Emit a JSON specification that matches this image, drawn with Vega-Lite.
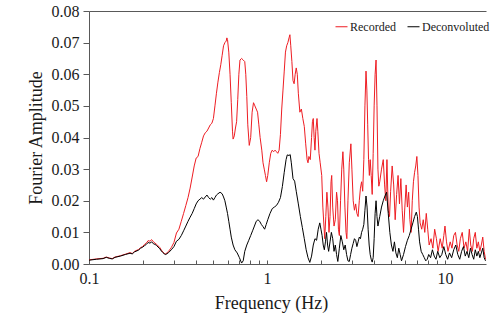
{
  "$schema": "https://vega.github.io/schema/vega-lite/v6.json",
  "width": 397,
  "height": 253,
  "autosize": {"type": "none"},
  "padding": {"left": 89, "top": 11, "right": 5, "bottom": 58},
  "config": {"view": {"stroke": null}, "font": "Liberation Serif"},
  "datasets": {
    "rec": [
      {"f":0.1,"a":0.0013},{"f":0.11,"a":0.0016},{"f":0.12,"a":0.0018},{"f":0.125,"a":0.0022},{"f":0.13,"a":0.0019},{"f":0.135,"a":0.0017},{"f":0.14,"a":0.0022},{"f":0.15,"a":0.0026},{"f":0.16,"a":0.0031},{"f":0.17,"a":0.0036},{"f":0.175,"a":0.0033},{"f":0.18,"a":0.004},{"f":0.19,"a":0.0046},{"f":0.195,"a":0.0052},{"f":0.2,"a":0.0055},{"f":0.205,"a":0.0062},{"f":0.21,"a":0.0066},{"f":0.215,"a":0.0074},{"f":0.22,"a":0.0072},{"f":0.225,"a":0.0077},{"f":0.23,"a":0.007},{"f":0.235,"a":0.0066},{"f":0.24,"a":0.0062},{"f":0.25,"a":0.0052},{"f":0.255,"a":0.0044},{"f":0.26,"a":0.0038},{"f":0.265,"a":0.0033},{"f":0.27,"a":0.0032},{"f":0.28,"a":0.004},{"f":0.29,"a":0.0052},{"f":0.3,"a":0.0068},{"f":0.31,"a":0.0098},{"f":0.32,"a":0.011},{"f":0.33,"a":0.0135},{"f":0.34,"a":0.016},{"f":0.35,"a":0.0185},{"f":0.36,"a":0.021},{"f":0.37,"a":0.024},{"f":0.38,"a":0.0275},{"f":0.39,"a":0.031},{"f":0.4,"a":0.0335},{"f":0.41,"a":0.034},{"f":0.42,"a":0.0365},{"f":0.43,"a":0.0385},{"f":0.44,"a":0.0405},{"f":0.45,"a":0.0415},{"f":0.46,"a":0.042},{"f":0.47,"a":0.043},{"f":0.48,"a":0.044},{"f":0.49,"a":0.0445},{"f":0.5,"a":0.046},{"f":0.51,"a":0.05},{"f":0.52,"a":0.054},{"f":0.53,"a":0.0575},{"f":0.54,"a":0.0605},{"f":0.55,"a":0.063},{"f":0.56,"a":0.066},{"f":0.57,"a":0.069},{"f":0.58,"a":0.07},{"f":0.59,"a":0.0705},{"f":0.595,"a":0.0715},{"f":0.6,"a":0.071},{"f":0.61,"a":0.067},{"f":0.62,"a":0.06},{"f":0.63,"a":0.051},{"f":0.64,"a":0.042},{"f":0.645,"a":0.0395},{"f":0.655,"a":0.0405},{"f":0.665,"a":0.043},{"f":0.675,"a":0.045},{"f":0.685,"a":0.052},{"f":0.695,"a":0.06},{"f":0.705,"a":0.0645},{"f":0.72,"a":0.065},{"f":0.735,"a":0.0645},{"f":0.75,"a":0.064},{"f":0.76,"a":0.06},{"f":0.77,"a":0.053},{"f":0.78,"a":0.044},{"f":0.795,"a":0.0375},{"f":0.81,"a":0.04},{"f":0.825,"a":0.048},{"f":0.84,"a":0.051},{"f":0.855,"a":0.05},{"f":0.87,"a":0.049},{"f":0.885,"a":0.048},{"f":0.9,"a":0.044},{"f":0.915,"a":0.04},{"f":0.935,"a":0.036},{"f":0.95,"a":0.032},{"f":0.965,"a":0.03},{"f":0.98,"a":0.028},{"f":0.995,"a":0.026},{"f":1.01,"a":0.028},{"f":1.03,"a":0.032},{"f":1.05,"a":0.035},{"f":1.07,"a":0.036},{"f":1.09,"a":0.0355},{"f":1.11,"a":0.036},{"f":1.13,"a":0.0355},{"f":1.15,"a":0.035},{"f":1.17,"a":0.036},{"f":1.19,"a":0.041},{"f":1.21,"a":0.049},{"f":1.23,"a":0.055},{"f":1.25,"a":0.061},{"f":1.27,"a":0.067},{"f":1.29,"a":0.069},{"f":1.31,"a":0.07},{"f":1.33,"a":0.0715},{"f":1.345,"a":0.0725},{"f":1.36,"a":0.069},{"f":1.38,"a":0.064},{"f":1.4,"a":0.058},{"f":1.42,"a":0.057},{"f":1.44,"a":0.06},{"f":1.46,"a":0.062},{"f":1.48,"a":0.06},{"f":1.5,"a":0.054},{"f":1.53,"a":0.048},{"f":1.56,"a":0.049},{"f":1.59,"a":0.046},{"f":1.62,"a":0.0435},{"f":1.65,"a":0.038},{"f":1.68,"a":0.033},{"f":1.7,"a":0.032},{"f":1.72,"a":0.034},{"f":1.75,"a":0.033},{"f":1.78,"a":0.04},{"f":1.8,"a":0.045},{"f":1.82,"a":0.046},{"f":1.84,"a":0.04},{"f":1.86,"a":0.036},{"f":1.88,"a":0.042},{"f":1.91,"a":0.046},{"f":1.93,"a":0.042},{"f":1.96,"a":0.035},{"f":1.99,"a":0.032},{"f":2.03,"a":0.028},{"f":2.06,"a":0.018},{"f":2.09,"a":0.012},{"f":2.11,"a":0.008},{"f":2.14,"a":0.015},{"f":2.17,"a":0.0227},{"f":2.2,"a":0.018},{"f":2.23,"a":0.01},{"f":2.26,"a":0.015},{"f":2.29,"a":0.026},{"f":2.31,"a":0.028},{"f":2.34,"a":0.018},{"f":2.38,"a":0.012},{"f":2.42,"a":0.014},{"f":2.46,"a":0.0227},{"f":2.49,"a":0.02},{"f":2.52,"a":0.011},{"f":2.55,"a":0.009},{"f":2.59,"a":0.02},{"f":2.63,"a":0.03},{"f":2.67,"a":0.0355},{"f":2.7,"a":0.03},{"f":2.74,"a":0.018},{"f":2.78,"a":0.01},{"f":2.81,"a":0.008},{"f":2.85,"a":0.02},{"f":2.9,"a":0.032},{"f":2.96,"a":0.038},{"f":3.0,"a":0.03},{"f":3.05,"a":0.02},{"f":3.1,"a":0.017},{"f":3.15,"a":0.019},{"f":3.2,"a":0.016},{"f":3.25,"a":0.015},{"f":3.3,"a":0.02},{"f":3.35,"a":0.024},{"f":3.4,"a":0.026},{"f":3.45,"a":0.023},{"f":3.5,"a":0.033},{"f":3.55,"a":0.05},{"f":3.6,"a":0.061},{"f":3.64,"a":0.055},{"f":3.68,"a":0.044},{"f":3.72,"a":0.033},{"f":3.76,"a":0.028},{"f":3.8,"a":0.033},{"f":3.85,"a":0.028},{"f":3.9,"a":0.022},{"f":3.95,"a":0.035},{"f":4.0,"a":0.05},{"f":4.05,"a":0.06},{"f":4.1,"a":0.0645},{"f":4.15,"a":0.05},{"f":4.2,"a":0.03},{"f":4.25,"a":0.0246},{"f":4.3,"a":0.026},{"f":4.4,"a":0.03},{"f":4.5,"a":0.033},{"f":4.58,"a":0.025},{"f":4.65,"a":0.02},{"f":4.72,"a":0.033},{"f":4.8,"a":0.017},{"f":4.88,"a":0.015},{"f":4.95,"a":0.023},{"f":5.05,"a":0.031},{"f":5.15,"a":0.025},{"f":5.25,"a":0.014},{"f":5.35,"a":0.022},{"f":5.45,"a":0.028},{"f":5.55,"a":0.019},{"f":5.65,"a":0.027},{"f":5.75,"a":0.017},{"f":5.85,"a":0.01},{"f":5.95,"a":0.018},{"f":6.05,"a":0.025},{"f":6.15,"a":0.018},{"f":6.25,"a":0.0227},{"f":6.35,"a":0.014},{"f":6.45,"a":0.01},{"f":6.55,"a":0.02},{"f":6.65,"a":0.026},{"f":6.75,"a":0.029},{"f":6.85,"a":0.031},{"f":6.95,"a":0.034},{"f":7.05,"a":0.028},{"f":7.15,"a":0.018},{"f":7.25,"a":0.013},{"f":7.4,"a":0.011},{"f":7.55,"a":0.014},{"f":7.7,"a":0.01},{"f":7.85,"a":0.016},{"f":8.0,"a":0.011},{"f":8.15,"a":0.006},{"f":8.35,"a":0.008},{"f":8.55,"a":0.005},{"f":8.75,"a":0.011},{"f":8.95,"a":0.008},{"f":9.15,"a":0.004},{"f":9.4,"a":0.008},{"f":9.65,"a":0.005},{"f":9.85,"a":0.009},{"f":10.0,"a":0.012},{"f":10.2,"a":0.007},{"f":10.4,"a":0.004},{"f":10.7,"a":0.007},{"f":10.95,"a":0.005},{"f":11.2,"a":0.009},{"f":11.45,"a":0.01},{"f":11.7,"a":0.006},{"f":11.95,"a":0.004},{"f":12.2,"a":0.008},{"f":12.5,"a":0.01},{"f":12.8,"a":0.005},{"f":13.1,"a":0.007},{"f":13.4,"a":0.004},{"f":13.7,"a":0.011},{"f":13.95,"a":0.006},{"f":14.25,"a":0.004},{"f":14.5,"a":0.008},{"f":14.8,"a":0.01},{"f":15.1,"a":0.005},{"f":15.4,"a":0.007},{"f":15.7,"a":0.004},{"f":16.0,"a":0.006},{"f":16.3,"a":0.0085},{"f":16.6,"a":0.004},{"f":16.9,"a":0.0015}
    ],
    "dec": [
      {"f":0.1,"a":0.0012},{"f":0.11,"a":0.0015},{"f":0.12,"a":0.0017},{"f":0.125,"a":0.0021},{"f":0.13,"a":0.0018},{"f":0.135,"a":0.0016},{"f":0.14,"a":0.0021},{"f":0.15,"a":0.0025},{"f":0.16,"a":0.003},{"f":0.17,"a":0.0034},{"f":0.175,"a":0.0032},{"f":0.18,"a":0.0038},{"f":0.19,"a":0.0044},{"f":0.195,"a":0.005},{"f":0.2,"a":0.0053},{"f":0.205,"a":0.0058},{"f":0.21,"a":0.0062},{"f":0.215,"a":0.0068},{"f":0.22,"a":0.0066},{"f":0.225,"a":0.007},{"f":0.23,"a":0.0064},{"f":0.235,"a":0.0062},{"f":0.24,"a":0.0058},{"f":0.25,"a":0.0048},{"f":0.255,"a":0.0041},{"f":0.26,"a":0.0036},{"f":0.265,"a":0.0032},{"f":0.27,"a":0.003},{"f":0.28,"a":0.0036},{"f":0.29,"a":0.0045},{"f":0.3,"a":0.0055},{"f":0.31,"a":0.0072},{"f":0.32,"a":0.0078},{"f":0.33,"a":0.009},{"f":0.34,"a":0.0105},{"f":0.35,"a":0.012},{"f":0.36,"a":0.0135},{"f":0.37,"a":0.0148},{"f":0.38,"a":0.016},{"f":0.39,"a":0.0175},{"f":0.4,"a":0.019},{"f":0.41,"a":0.02},{"f":0.42,"a":0.0205},{"f":0.43,"a":0.021},{"f":0.44,"a":0.0205},{"f":0.45,"a":0.0212},{"f":0.46,"a":0.0218},{"f":0.47,"a":0.021},{"f":0.48,"a":0.0205},{"f":0.49,"a":0.021},{"f":0.5,"a":0.0202},{"f":0.51,"a":0.021},{"f":0.52,"a":0.0218},{"f":0.53,"a":0.0222},{"f":0.545,"a":0.0227},{"f":0.56,"a":0.0222},{"f":0.57,"a":0.0212},{"f":0.58,"a":0.02},{"f":0.59,"a":0.018},{"f":0.6,"a":0.016},{"f":0.61,"a":0.0135},{"f":0.62,"a":0.011},{"f":0.63,"a":0.0085},{"f":0.645,"a":0.006},{"f":0.66,"a":0.0045},{"f":0.68,"a":0.0035},{"f":0.7,"a":0.002},{"f":0.72,"a":0.0003},{"f":0.735,"a":0.001},{"f":0.75,"a":0.004},{"f":0.77,"a":0.006},{"f":0.79,"a":0.0075},{"f":0.81,"a":0.009},{"f":0.83,"a":0.0105},{"f":0.85,"a":0.012},{"f":0.87,"a":0.0135},{"f":0.89,"a":0.014},{"f":0.91,"a":0.0135},{"f":0.93,"a":0.0125},{"f":0.95,"a":0.0118},{"f":0.97,"a":0.011},{"f":0.99,"a":0.0125},{"f":1.01,"a":0.014},{"f":1.04,"a":0.016},{"f":1.07,"a":0.0175},{"f":1.1,"a":0.018},{"f":1.13,"a":0.0185},{"f":1.16,"a":0.0195},{"f":1.19,"a":0.021},{"f":1.22,"a":0.0245},{"f":1.25,"a":0.029},{"f":1.28,"a":0.033},{"f":1.3,"a":0.0345},{"f":1.33,"a":0.0343},{"f":1.35,"a":0.0346},{"f":1.37,"a":0.032},{"f":1.4,"a":0.027},{"f":1.43,"a":0.0262},{"f":1.46,"a":0.023},{"f":1.5,"a":0.019},{"f":1.54,"a":0.015},{"f":1.58,"a":0.0115},{"f":1.62,"a":0.008},{"f":1.66,"a":0.0045},{"f":1.7,"a":0.002},{"f":1.74,"a":0.0005},{"f":1.78,"a":0.0025},{"f":1.82,"a":0.006},{"f":1.86,"a":0.008},{"f":1.9,"a":0.0075},{"f":1.94,"a":0.011},{"f":1.98,"a":0.013},{"f":2.01,"a":0.011},{"f":2.04,"a":0.009},{"f":2.07,"a":0.006},{"f":2.1,"a":0.0045},{"f":2.13,"a":0.007},{"f":2.16,"a":0.01},{"f":2.19,"a":0.006},{"f":2.22,"a":0.004},{"f":2.26,"a":0.007},{"f":2.3,"a":0.01},{"f":2.34,"a":0.008},{"f":2.38,"a":0.004},{"f":2.42,"a":0.006},{"f":2.46,"a":0.003},{"f":2.5,"a":0.0008},{"f":2.55,"a":0.005},{"f":2.6,"a":0.009},{"f":2.65,"a":0.007},{"f":2.7,"a":0.0045},{"f":2.75,"a":0.006},{"f":2.8,"a":0.003},{"f":2.85,"a":0.001},{"f":2.9,"a":0.0008},{"f":2.95,"a":0.003},{"f":3.0,"a":0.005},{"f":3.05,"a":0.0065},{"f":3.1,"a":0.008},{"f":3.15,"a":0.0075},{"f":3.2,"a":0.0055},{"f":3.25,"a":0.007},{"f":3.3,"a":0.0085},{"f":3.35,"a":0.008},{"f":3.4,"a":0.01},{"f":3.45,"a":0.011},{"f":3.5,"a":0.0125},{"f":3.55,"a":0.017},{"f":3.6,"a":0.0215},{"f":3.65,"a":0.018},{"f":3.7,"a":0.011},{"f":3.75,"a":0.006},{"f":3.8,"a":0.003},{"f":3.85,"a":0.0015},{"f":3.9,"a":0.0006},{"f":3.95,"a":0.002},{"f":4.0,"a":0.008},{"f":4.05,"a":0.016},{"f":4.1,"a":0.02},{"f":4.15,"a":0.015},{"f":4.2,"a":0.012},{"f":4.3,"a":0.015},{"f":4.4,"a":0.018},{"f":4.5,"a":0.02},{"f":4.6,"a":0.0215},{"f":4.7,"a":0.0227},{"f":4.8,"a":0.016},{"f":4.9,"a":0.01},{"f":5.0,"a":0.006},{"f":5.1,"a":0.004},{"f":5.2,"a":0.007},{"f":5.3,"a":0.0035},{"f":5.4,"a":0.002},{"f":5.5,"a":0.005},{"f":5.6,"a":0.003},{"f":5.7,"a":0.001},{"f":5.85,"a":0.003},{"f":6.0,"a":0.0055},{"f":6.15,"a":0.0075},{"f":6.3,"a":0.009},{"f":6.45,"a":0.011},{"f":6.6,"a":0.013},{"f":6.75,"a":0.015},{"f":6.9,"a":0.0164},{"f":7.0,"a":0.015},{"f":7.1,"a":0.011},{"f":7.2,"a":0.007},{"f":7.35,"a":0.004},{"f":7.5,"a":0.003},{"f":7.65,"a":0.002},{"f":7.8,"a":0.001},{"f":7.95,"a":0.0015},{"f":8.1,"a":0.003},{"f":8.3,"a":0.002},{"f":8.5,"a":0.0045},{"f":8.7,"a":0.0025},{"f":8.9,"a":0.0015},{"f":9.1,"a":0.004},{"f":9.35,"a":0.002},{"f":9.6,"a":0.003},{"f":9.85,"a":0.0055},{"f":10.1,"a":0.003},{"f":10.35,"a":0.0015},{"f":10.6,"a":0.0035},{"f":10.9,"a":0.002},{"f":11.2,"a":0.0045},{"f":11.5,"a":0.006},{"f":11.8,"a":0.003},{"f":12.1,"a":0.0015},{"f":12.4,"a":0.004},{"f":12.7,"a":0.0055},{"f":13.0,"a":0.0025},{"f":13.3,"a":0.004},{"f":13.6,"a":0.002},{"f":13.9,"a":0.005},{"f":14.2,"a":0.003},{"f":14.5,"a":0.0015},{"f":14.8,"a":0.0045},{"f":15.1,"a":0.0025},{"f":15.4,"a":0.004},{"f":15.7,"a":0.002},{"f":16.0,"a":0.0035},{"f":16.3,"a":0.005},{"f":16.6,"a":0.002},{"f":16.9,"a":0.001}
    ]
  },
  "resolve": {"axis": {"x": "independent"}},
  "layer": [
    {
      "data": {"name": "rec"},
      "mark": {"type": "line", "strokeWidth": 1, "interpolate": "linear"},
      "encoding": {
        "x": {
          "field": "f", "type": "quantitative",
          "scale": {"type": "log", "domain": [0.1, 17], "nice": false},
          "axis": {
            "title": "Frequency (Hz)", "titleFont": "Liberation Serif", "titleFontSize": 18, "titleFontWeight": "normal", "titleColor": "#1a1a1a",
            "titleX": 182, "titleAlign": "center", "titlePadding": 8,
            "values": [0.1,0.2,0.3,0.4,0.5,0.6,0.7,0.8,0.9,1,2,3,4,5,6,7,8,9,10], "tickCount": 40,
            "labelExpr": "datum.value < 0.15 ? '0.1' : (datum.value == 1 ? '1' : (datum.value == 10 ? '10' : ''))",
            "labelFont": "Liberation Serif", "labelFontSize": 16, "labelColor": "#1a1a1a", "labelPadding": 10,
            "tickSize": -4, "tickColor": "#595959", "domainColor": "#595959", "grid": false, "labelFlush": false, "labelOverlap": false
          }
        },
        "y": {
          "field": "a", "type": "quantitative",
          "scale": {"domain": [0, 0.08], "nice": false},
          "axis": {
            "title": "Fourier Amplitude", "titleFont": "Liberation Serif", "titleFontSize": 18, "titleFontWeight": "normal", "titleColor": "#1a1a1a", "titlePadding": 6,
            "values": [0, 0.01, 0.02, 0.03, 0.04, 0.05, 0.06, 0.07, 0.08], "tickCount": 20,
            "format": ".2f", "labelOverlap": false,
            "labelFont": "Liberation Serif", "labelFontSize": 16, "labelColor": "#1a1a1a", "labelPadding": 4,
            "tickSize": 6, "tickColor": "#595959", "domainColor": "#595959", "grid": false
          }
        },
        "color": {
          "datum": "Recorded", "type": "nominal",
          "scale": {"domain": ["Recorded", "Deconvoluted"], "range": ["#ee1d23", "#000000"]},
          "legend": {
            "title": null, "orient": "none", "legendX": 246, "legendY": 9, "direction": "horizontal",
            "symbolType": "stroke", "symbolSize": 144, "symbolStrokeWidth": 1,
            "labelFont": "Liberation Serif", "labelFontSize": 12, "labelColor": "#1a1a1a", "labelOffset": 2, "columnPadding": 9
          }
        }
      }
    },
    {
      "data": {"name": "dec"},
      "mark": {"type": "line", "strokeWidth": 1, "interpolate": "linear"},
      "encoding": {
        "x": {"field": "f", "type": "quantitative", "axis": {"orient": "top", "title": null, "labels": false, "ticks": false, "grid": false, "domainColor": "#595959"}},
        "y": {"field": "a", "type": "quantitative"},
        "color": {"datum": "Deconvoluted", "type": "nominal"}
      }
    }
  ]
}
